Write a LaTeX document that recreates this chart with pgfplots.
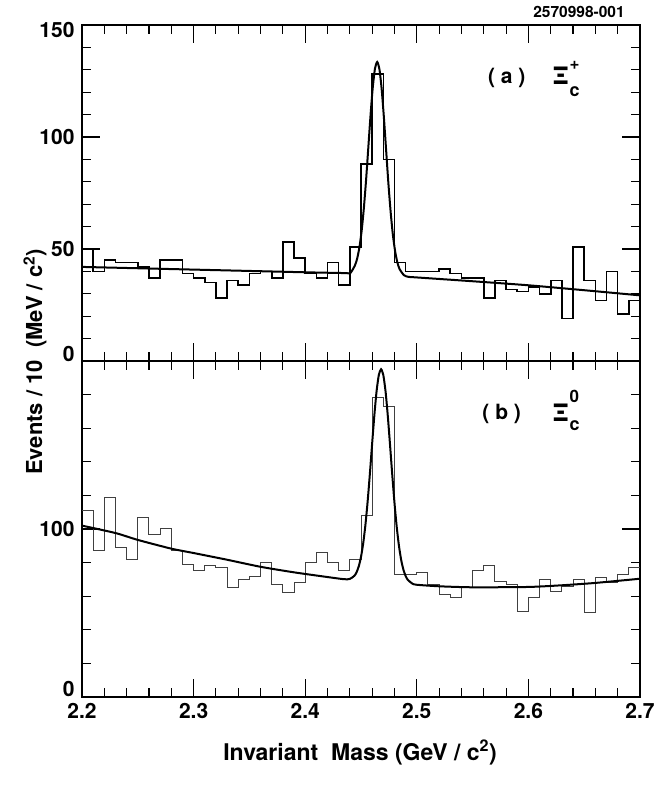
\documentclass[border=0pt]{standalone}
\usepackage{fontspec}
\setmainfont{TeX Gyre Heros}
\usepackage{pgfplots}
\pgfplotsset{compat=1.18}

\pgfplotsset{
  panel/.style={
    scale only axis, width=558pt, height=336pt,
    anchor=south west,
    xmin=2.2, xmax=2.7,
    xtick={2.2,2.3,2.4,2.5,2.6,2.7},
    minor x tick num=4,
    minor y tick num=4,
    tick align=inside,
    major tick length=18pt, minor tick length=9pt,
    tick style={black, line width=1.1pt},
    axis line style={line width=2pt},
    /pgf/number format/assume math mode=true,
    tick label style={font=\fontsize{21}{21}\selectfont\bfseries},
    xticklabel style={/pgf/number format/fixed, /pgf/number format/precision=1, /pgf/number format/fixed zerofill, yshift=-3pt},
    yticklabel style={xshift=-4pt},
  }
}

\begin{document}
\begin{tikzpicture}
\useasboundingbox (0,0) rectangle (662pt,789pt);

% ---------- panel (a) ----------
\begin{axis}[panel, at={(82pt,428pt)}, ymin=0, ymax=150, ytick={0,50,100,150},
  yticklabels={\smash{\raisebox{-0.5pt}{0}},50,100,\smash{\raisebox{-12.5pt}{150}}},
  xticklabels={}]
\addplot[const plot mark left, black, line width=1.6pt] coordinates {
(2.20,50) (2.21,40) (2.22,45) (2.23,44) (2.24,44) (2.25,42) (2.26,37) (2.27,45) (2.28,45) (2.29,39)
(2.30,37) (2.31,35) (2.32,28) (2.33,36) (2.34,34) (2.35,39) (2.36,40) (2.37,37) (2.38,53) (2.39,46)
(2.40,39) (2.41,37) (2.42,44) (2.43,34) (2.44,51) (2.45,88) (2.46,128) (2.47,90) (2.48,44) (2.49,40)
(2.50,40) (2.51,40) (2.52,41) (2.53,39) (2.54,37) (2.55,37) (2.56,28) (2.57,36) (2.58,32) (2.59,31)
(2.60,33) (2.61,30) (2.62,36) (2.63,19) (2.64,51) (2.65,36) (2.66,27) (2.67,40) (2.68,21) (2.69,27)
(2.70,27)
};
\addplot[black, line width=2pt, smooth, tension=0.4] coordinates {
(2.2,42.0) (2.25,41.4) (2.3,40.8) (2.35,40.2) (2.4,39.6) (2.425,39.35) (2.4365,39.25) (2.4405,39.3)
(2.4445,42.6) (2.4465,45.6) (2.4485,50.5) (2.4505,57.8) (2.4525,67.9) (2.4545,80.5) (2.4565,94.9)
(2.4585,109.4) (2.4605,121.9) (2.4625,130.5) (2.4645,133.5) (2.4665,130.3) (2.4685,121.5)
(2.4705,108.8) (2.4725,94.2) (2.4745,79.6) (2.4765,66.9) (2.4785,56.6) (2.4805,49.2) (2.4825,44.2)
(2.4845,41.1) (2.4885,38.3) (2.4925,37.55) (2.5,37.3) (2.55,35.6) (2.6,33.8) (2.65,31.6) (2.7,29.3)
};
\end{axis}

% ---------- panel (b) ----------
\begin{axis}[panel, at={(82pt,92pt)}, ymin=0, ymax=200, ytick={0,100,200},
  yticklabels={\smash{\raisebox{0.5pt}{0}},100,{}}]
\addplot[const plot mark left, black!75, line width=1pt] coordinates {
(2.20,111) (2.21,87) (2.22,119) (2.23,89) (2.24,82) (2.25,107) (2.26,97) (2.27,100) (2.28,87) (2.29,79)
(2.30,75) (2.31,78) (2.32,77) (2.33,65) (2.34,70) (2.35,72) (2.36,80) (2.37,67) (2.38,62) (2.39,68)
(2.40,80) (2.41,86) (2.42,80) (2.43,75) (2.44,82) (2.45,108) (2.46,178) (2.47,173) (2.48,73) (2.49,73)
(2.50,74) (2.51,67) (2.52,61) (2.53,59) (2.54,65) (2.55,75) (2.56,78) (2.57,69) (2.58,67) (2.59,51)
(2.60,59) (2.61,70) (2.62,63) (2.63,66) (2.64,70) (2.65,50) (2.66,71) (2.67,68) (2.68,73) (2.69,77)
(2.70,77)
};
\addplot[black, line width=2pt, smooth, tension=0.4] coordinates {
(2.2,102.0) (2.23,97.6) (2.25,93.5) (2.28,88.3) (2.3,85.7) (2.33,81.7) (2.36,77.5) (2.39,74.2)
(2.42,71.4) (2.435,70.1) (2.440,70.3) (2.444,72.1) (2.446,74.2) (2.448,77.8) (2.450,83.4)
(2.452,91.6) (2.454,102.7) (2.456,116.8) (2.458,133.3) (2.460,151.0) (2.462,168.0) (2.464,182.3)
(2.466,191.8) (2.468,195.1) (2.470,191.6) (2.472,181.9) (2.474,167.4) (2.476,150.2) (2.478,132.3)
(2.480,115.6) (2.482,101.3) (2.484,90.0) (2.486,81.6) (2.488,75.8) (2.490,72.0) (2.492,69.7)
(2.496,67.5) (2.500,66.8) (2.52,65.9) (2.55,65.3) (2.6,65.5) (2.63,66.5) (2.66,67.9) (2.7,70.4)
};
\end{axis}

% ---------- labels ----------
\node[rotate=90, font=\fontsize{22}{22}\selectfont\bfseries] at (35pt,427pt)
  {Events / 10\ \ (MeV / c\textsuperscript{2})};
\node[font=\fontsize{23}{23}\selectfont\bfseries] at (360pt,37pt)
  {Invariant\ \ Mass (GeV / c\textsuperscript{2})};
\node[font=\fontsize{15.5}{15.5}\selectfont\bfseries] at (579pt,777pt) {2570998-001};

\node[anchor=base, font=\fontsize{21}{21}\selectfont\bfseries] at (506.7pt,705pt) {( a )};
\node[anchor=base west, inner sep=0pt, font=\fontsize{24}{24}\selectfont\bfseries] at (552pt,704pt)
  {Ξ\rlap{\raisebox{15pt}{\fontsize{17}{17}\selectfont +}}\raisebox{-12pt}{\fontsize{18}{18}\selectfont c}};

\node[anchor=base, font=\fontsize{21}{21}\selectfont\bfseries] at (501.7pt,369pt) {( b )};
\node[anchor=base west, inner sep=0pt, font=\fontsize{24}{24}\selectfont\bfseries] at (552pt,367.3pt)
  {Ξ\rlap{\raisebox{19pt}{\fontsize{17}{17}\selectfont 0}}\raisebox{-8.5pt}{\fontsize{18}{18}\selectfont c}};
\end{tikzpicture}
\end{document}
